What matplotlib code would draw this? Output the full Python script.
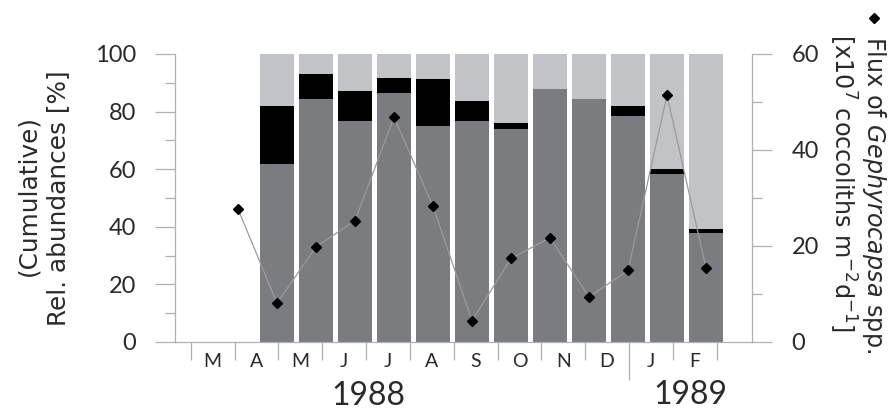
import numpy as np
import matplotlib
matplotlib.use("Agg")
import matplotlib.pyplot as plt
from matplotlib.lines import Line2D
from matplotlib.ticker import MultipleLocator, FixedLocator, NullFormatter, FixedFormatter

# ---- data ----
months = ['M', 'A', 'M', 'J', 'J', 'A', 'S', 'O', 'N', 'D', 'J', 'F']
years = ['1988', '1989']
grey_pct = np.array([61.8, 84.3, 76.8, 86.6, 75.1, 76.8, 74.1, 88.0, 84.4, 78.3, 58.3, 37.7])
black_pct = np.array([20.1, 8.6, 10.4, 5.0, 16.1, 6.8, 2.1, 0.0, 0.0, 3.8, 1.9, 1.5])
light_pct = 100 - grey_pct - black_pct
flux = [27.7, 8.1, 19.8, 25.3, 46.8, 28.3, 4.4, 17.4, 21.7, 9.4, 14.9, 51.4, 15.4]

FONT = ['Lato', 'DejaVu Sans']
LBLFONT = ['DejaVu Sans']
plt.rcParams['font.family'] = FONT
plt.rcParams['mathtext.fontset'] = 'custom'
plt.rcParams['mathtext.rm'] = 'DejaVu Sans'
plt.rcParams['mathtext.it'] = 'DejaVu Sans:italic'
plt.rcParams['mathtext.fallback'] = 'stix'

TXT = '#2a2a2a'
AXC = '#b0b0b0'
DARK = '#7b7c80'
LIGHT = '#c1c3c6'

W, H = 893, 416
fig = plt.figure(figsize=(W / 100, H / 100), dpi=100)
L, R, B, T = 175, 752, 342, 54
ax = fig.add_axes([L / W, 1 - B / H, (R - L) / W, (B - T) / H])

xb = np.arange(1, len(grey_pct) + 1)
xp = np.arange(0, len(flux))
bw = 34 / 39
ax.bar(xb, grey_pct, width=bw, color=DARK, linewidth=0)
ax.bar(xb, black_pct, width=bw, bottom=grey_pct, color='black', linewidth=0)
ax.bar(xb, light_pct, width=bw, bottom=grey_pct + black_pct, color=LIGHT, linewidth=0)
ax.set_xlim((L - 277) / 39 + 1, (R - 277) / 39 + 1)
ax.set_ylim(0, 100)

for s in ['top', 'right']:
    ax.spines[s].set_visible(False)
for s in ['left', 'bottom']:
    ax.spines[s].set_color(AXC)
    ax.spines[s].set_linewidth(0.9)
ax.set_xticks([])
ax.yaxis.set_major_locator(MultipleLocator(20))
ax.yaxis.set_minor_locator(MultipleLocator(10))
ax.tick_params(axis='y', which='major', length=14.4, width=0.9, color=AXC,
               pad=13.5, labelsize=17, labelcolor=TXT)
ax.tick_params(axis='y', which='minor', length=7.2, width=0.9, color=AXC)

# right axis: flux
ax2 = ax.twinx()
ax2.set_ylim(0, 60)
ax2.plot(xp, flux, color='#9a9a9a', lw=0.9, marker='D', ms=5, mfc='black', mec='black')
for s in ['top', 'left', 'bottom']:
    ax2.spines[s].set_visible(False)
ax2.spines['right'].set_color(AXC)
ax2.spines['right'].set_linewidth(0.9)
ax2.yaxis.set_major_locator(MultipleLocator(20))
ax2.yaxis.set_minor_locator(MultipleLocator(10))
ax2.tick_params(axis='y', which='major', length=14.4, width=0.9, color=AXC,
                pad=14, labelsize=17, labelcolor=TXT)
ax2.tick_params(axis='y', which='minor', length=7.2, width=0.9, color=AXC)

# month axis
ax3 = ax.twiny()
ax3.set_xlim(-0.358, 12.806)
for s in ax3.spines.values():
    s.set_visible(False)
ax3.xaxis.set_ticks_position('bottom')
ax3.xaxis.set_label_position('bottom')
ax3.xaxis.set_major_locator(FixedLocator(np.arange(0, len(months) + 1)))
ax3.xaxis.set_major_formatter(NullFormatter())
ax3.xaxis.set_minor_locator(FixedLocator(np.arange(len(months)) + 0.5))
ax3.xaxis.set_minor_formatter(FixedFormatter(months))
ax3.tick_params(axis='x', which='major', length=13, width=0.9, color=AXC)
ax3.tick_params(axis='x', which='minor', length=0, pad=8, labelsize=14, labelcolor=TXT)
ax3.xaxis.get_major_ticks()[10].tick1line.set_markersize(27.4)

fig.text(368 / W, 1 - 396 / H, years[0], fontsize=23, color=TXT, ha='center', va='center')
fig.text(690 / W, 1 - 395 / H, years[1], fontsize=23, color=TXT, ha='center', va='center')

renderer = fig.canvas.get_renderer()


def fitted(x, y, s, length, rot, fs0=17, **kw):
    t = fig.text(x / W, 1 - y / H, s, rotation=rot, fontsize=fs0, color=TXT,
                 ha='center', va='center', family=LBLFONT, **kw)
    h = t.get_window_extent(renderer).height
    t.set_fontsize(fs0 * length / h)
    return t


t2 = fitted(58, 198, 'Rel. abundances [%]', 255, 90)
fig.text(28 / W, 1 - 196 / H, '(Cumulative)', rotation=90, fontsize=t2.get_fontsize(),
         color=TXT, ha='center', va='center', family=LBLFONT)
t3 = fitted(874, 195, r'Flux of $\it{Gephyrocapsa}$ spp.', 318, -90)
fig.add_artist(Line2D([874 / W], [1 - 18 / H], transform=fig.transFigure,
                      marker='D', ms=5, color='black', linestyle='none'))
fig.text(843 / W, 1 - 183 / H, r'[x10$^{7}$ coccoliths m$^{-2}$d$^{-1}$]',
         rotation=-90, fontsize=t3.get_fontsize(), color=TXT, ha='center', va='center',
         family=LBLFONT)

fig.savefig('out.png', dpi=100)
